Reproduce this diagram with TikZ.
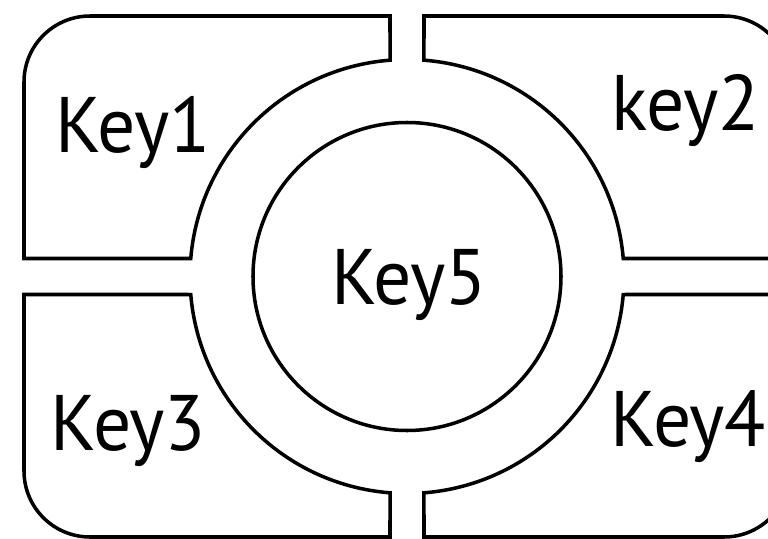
\documentclass[tikz,border=0pt]{standalone}
\usepackage{fontspec}
\setmainfont{PT Sans}
\tikzset{
	keypad/.style={line width=2.5pt, line join=miter},
	keylabel/.style={font=\fontsize{56}{56}\selectfont, inner sep=0pt, xscale=0.96, transform shape}
}
\begin{document}
\begin{tikzpicture}
		\useasboundingbox (-10.175,-6.5375) rectangle (9.025,6.9125);
		
		% four outer keys
		\draw [keypad] (-0.425,6.5125) -- (-7.925,6.5125) arc [start angle=90, end angle=180, radius=1.65]
			-- (-9.575,0.45) -- (175.24:5.425) arc [start angle=175.24, end angle=94.49, radius=5.425] -- cycle;
		\draw [keypad] (0.425,6.5125) -- (7.925,6.5125) arc [start angle=90, end angle=0, radius=1.65]
			-- (9.575,0.45) -- (4.76:5.425) arc [start angle=4.76, end angle=85.51, radius=5.425] -- cycle;
		\draw [keypad] (-0.425,-6.5125) -- (-7.925,-6.5125) arc [start angle=270, end angle=180, radius=1.65]
			-- (-9.575,-0.45) -- (184.76:5.425) arc [start angle=184.76, end angle=265.51, radius=5.425] -- cycle;
		\draw [keypad] (0.425,-6.5125) -- (7.925,-6.5125) arc [start angle=270, end angle=360, radius=1.65]
			-- (9.575,-0.45) -- (-4.76:5.425) arc [start angle=-4.76, end angle=-85.51, radius=5.425] -- cycle;
		
		% centre key
		\draw [keypad] (0,0) circle [radius=3.85];
		
		\node [keylabel, anchor=base west] (key1) at (-8.8,3.11) {Key1};
		\node [keylabel, anchor=base west] (key2) at (5.1,3.66) {key2};
		\node [keylabel, anchor=base west] (key3) at (-8.92,-4.34) {Key3};
		\node [keylabel, anchor=base west] (key4) at (5.08,-4.24) {Key4};
		\node [keylabel, anchor=base] (key5) at (0.05,-0.71) {Key5};
	\end{tikzpicture}
\end{document}
